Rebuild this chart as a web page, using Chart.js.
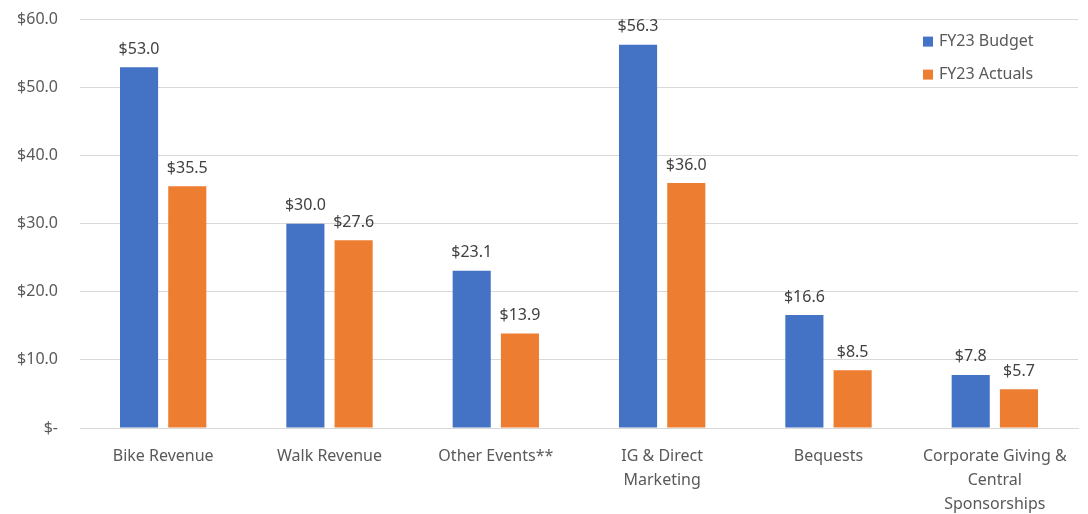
<!DOCTYPE html>
<html>
<head>
<meta charset="utf-8">
<script src="https://cdn.jsdelivr.net/npm/chart.js@4.4.0/dist/chart.umd.min.js"></script>
<style>
  html, body { margin: 0; padding: 0; background: #fff; overflow: hidden; }
  #wrap { width: 1088px; height: 526px; position: relative; margin-top: -12px; }
</style>
</head>
<body>
<div id="wrap"><canvas id="revenueChart"></canvas></div>
<script>
// Chart data
const categories = [
    'Bike Revenue',
    'Walk Revenue',
    'Other Events**',
    ['IG & Direct', 'Marketing'],
    'Bequests',
    ['Corporate Giving &', 'Central', 'Sponsorships']
];
const budgetValues = [53.0, 30.0, 23.1, 56.3, 16.6, 7.8];
const actualValues = [35.5, 27.6, 13.9, 36.0, 8.5, 5.7];
const yTicks = [0, 10, 20, 30, 40, 50, 60];

const FONT = "'Noto Sans', 'Open Sans', sans-serif";

function formatMoney(v) {
    return v === 0 ? '$-' : '$' + v.toFixed(1);
}

// Value labels above each bar
const valueLabels = {
    id: 'valueLabels',
    afterDatasetsDraw(chart) {
        const ctx = chart.ctx;
        ctx.save();
        ctx.font = '16px ' + FONT;
        ctx.fillStyle = '#404040';
        ctx.textAlign = 'center';
        ctx.textBaseline = 'bottom';
        chart.data.datasets.forEach((ds, i) => {
            chart.getDatasetMeta(i).data.forEach((bar, j) => {
                ctx.fillText(formatMoney(ds.data[j]), bar.x, bar.y - 10);
            });
        });
        ctx.restore();
    }
};

// Legend drawn inside the plot, top right
const insideLegend = {
    id: 'insideLegend',
    afterDraw(chart) {
        const ctx = chart.ctx;
        const area = chart.chartArea;
        const x = area.right - 155;
        ctx.save();
        ctx.font = '16px ' + FONT;
        ctx.textBaseline = 'middle';
        ctx.textAlign = 'left';
        chart.data.datasets.forEach((ds, i) => {
            const y = area.top + 22 + i * 33;
            ctx.fillStyle = ds.backgroundColor;
            ctx.fillRect(x, y - 5, 10, 10);
            ctx.fillStyle = '#595959';
            ctx.fillText(ds.label, x + 16, y);
        });
        ctx.restore();
    }
};

const ctx = document.getElementById('revenueChart').getContext('2d');
new Chart(ctx, {
    type: 'bar',
    data: {
        labels: categories,
        datasets: [
            {
                label: 'FY23 Budget',
                data: budgetValues,
                backgroundColor: '#4472C4',
                categoryPercentage: 0.58,
                barPercentage: 0.79
            },
            {
                label: 'FY23 Actuals',
                data: actualValues,
                backgroundColor: '#ED7D31',
                categoryPercentage: 0.58,
                barPercentage: 0.79
            }
        ]
    },
    options: {
        responsive: true,
        maintainAspectRatio: false,
        animation: false,
        layout: { padding: { top: 8, right: 10, bottom: 0, left: 0 } },
        plugins: {
            legend: { display: false },
            tooltip: { enabled: false }
        },
        scales: {
            x: {
                grid: { display: false, drawTicks: false },
                border: { color: '#d9d9d9', width: 1 },
                ticks: {
                    color: '#595959',
                    font: { family: FONT, size: 16, lineHeight: 1.5 },
                    padding: 16,
                    maxRotation: 0,
                    autoSkip: false
                },
                afterFit(scale) { scale.height = 86; }
            },
            y: {
                min: 0,
                max: 60,
                afterBuildTicks(scale) {
                    scale.ticks = yTicks.map(v => ({ value: v }));
                },
                grid: { color: '#d9d9d9', drawTicks: false },
                border: { display: false },
                ticks: {
                    color: '#595959',
                    font: { family: FONT, size: 16 },
                    padding: 22,
                    callback: v => formatMoney(v)
                },
                afterFit(scale) { scale.width = 80; }
            }
        }
    },
    plugins: [valueLabels, insideLegend]
});
</script>
</body>
</html>
